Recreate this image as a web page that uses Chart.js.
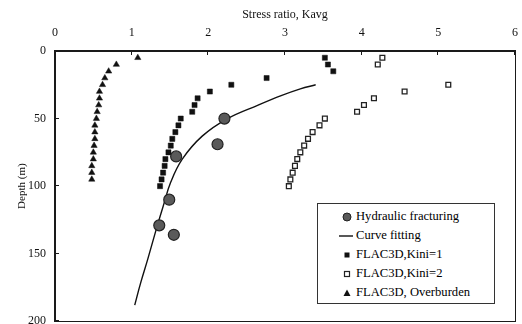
<!DOCTYPE html>
<html><head><meta charset="utf-8">
<script src="https://cdn.jsdelivr.net/npm/chart.js@4/dist/chart.umd.min.js"></script>
<style>
html,body{margin:0;padding:0;background:#fff;overflow:hidden;}
#wrap{position:relative;width:522px;height:324px;overflow:hidden;}
#frame{position:absolute;border:1px solid #1a1a1a;box-sizing:border-box;pointer-events:none;}
.tk{position:absolute;background:#1a1a1a;pointer-events:none;}
#legend{position:absolute;left:317px;top:203px;width:178px;height:101px;border:1px solid #333;background:#fff;font-family:"Liberation Serif","Times New Roman",serif;font-size:12.6px;color:#000;box-sizing:border-box;}
.row{position:absolute;left:0;width:100%;height:19px;line-height:19px;white-space:nowrap;}
.row svg{position:absolute;left:23px;top:4px;}
.row span{position:absolute;left:38px;top:0;}
</style></head>
<body><div id="wrap"><canvas id="c" width="522" height="328"></canvas><div id="frame"></div><div id="legend"></div></div>
<script>
// Hydraulic fracturing measurements
const hfDepth = [50, 69, 78, 110, 129, 136];
const hfK = [2.21, 2.12, 1.58, 1.49, 1.36, 1.55];
// Curve fitting
const fitDepth = [25, 28, 33, 40, 50, 63, 80, 97, 115, 134, 154, 171, 188];
const fitK = [3.40, 3.20, 2.95, 2.65, 2.25, 1.92, 1.66, 1.51, 1.41, 1.31, 1.21, 1.12, 1.04];
// FLAC3D, Kini=1
const kini1Depth = [5,10,15,20,25,30,35,40,45,50,55,60,65,70,75,80,85,90,95,100];
const kini1K = [3.52,3.56,3.63,2.76,2.30,2.02,1.86,1.82,1.79,1.64,1.61,1.57,1.53,1.51,1.48,1.44,1.43,1.41,1.39,1.37];
// FLAC3D, Kini=2
const kini2Depth = [5,10,25,30,35,40,45,50,55,60,65,70,75,80,85,90,95,100];
const kini2K = [4.27,4.21,5.13,4.56,4.16,4.03,3.94,3.52,3.45,3.36,3.30,3.25,3.20,3.16,3.13,3.10,3.07,3.05];
// FLAC3D, Overburden
const obDepth = [5,10,15,20,25,30,35,40,45,50,55,60,65,70,75,80,85,90,95];
const obK = [1.08,0.80,0.70,0.65,0.62,0.58,0.58,0.57,0.55,0.54,0.52,0.52,0.52,0.51,0.50,0.50,0.48,0.48,0.48];
// Axis ticks
const xTicks = [0,1,2,3,4,5,6];
const yTicks = [0,50,100,150,200];

const legendLabels = ['Hydraulic fracturing','Curve fitting','FLAC3D,Kini=1','FLAC3D,Kini=2','FLAC3D, Overburden'];

const pts = (xs, ys) => xs.map((x, i) => ({x, y: ys[i]}));
const serif = '"Liberation Serif","Times New Roman",serif';

const noPadX = s => { s.paddingLeft = 0; s.paddingRight = 0; };
const noPadY = s => { s.paddingTop = 0; s.paddingBottom = 0; };

const chart = new Chart(document.getElementById('c'), {
  type: 'scatter',
  data: {
    datasets: [
      {label: legendLabels[0], data: pts(hfK, hfDepth), pointStyle: 'circle', pointRadius: 5.5,
       backgroundColor: '#5a5a5a', borderColor: '#222', borderWidth: 1.2, order: 1},
      {label: legendLabels[1], data: pts(fitK, fitDepth), showLine: true, pointRadius: 0, tension: 0.4,
       borderColor: '#111', borderWidth: 1.4, backgroundColor: '#111', order: 2},
      {label: legendLabels[2], data: pts(kini1K, kini1Depth), pointStyle: 'rect', pointRadius: 3.6,
       backgroundColor: '#111', borderColor: '#111', borderWidth: 0.5, order: 3},
      {label: legendLabels[3], data: pts(kini2K, kini2Depth), pointStyle: 'rect', pointRadius: 3.4,
       backgroundColor: '#fff', borderColor: '#222', borderWidth: 1.3, order: 4},
      {label: legendLabels[4], data: pts(obK, obDepth), pointStyle: 'triangle', pointRadius: 3.6,
       backgroundColor: '#111', borderColor: '#111', borderWidth: 0.5, order: 5}
    ]
  },
  options: {
    responsive: false,
    animation: false,
    layout: {padding: {top: 0, left: 0, right: 7, bottom: 0}},
    plugins: {legend: {display: false}, tooltip: {enabled: false}},
    scales: {
      x: {
        type: 'linear', position: 'top', min: 0, max: 6,
        afterFit: s => { s.height = 51; noPadX(s); },
        afterBuildTicks: s => { s.ticks = xTicks.map(v => ({value: v})); },
        grid: {display: false, drawTicks: false}, border: {display: true, color: '#1a1a1a', width: 1},
        ticks: {padding: 11, color: '#111', font: {family: serif, size: 12}},
        title: {display: true, text: 'Stress ratio, Kavg', color: '#111', padding: {top: 8, bottom: 0}, font: {family: serif, size: 12}}
      },
      y: {
        type: 'linear', position: 'left', reverse: true, min: 0, max: 200,
        afterFit: s => { s.width = 55; noPadY(s); },
        afterBuildTicks: s => { s.ticks = yTicks.map(v => ({value: v})); },
        grid: {display: false, drawTicks: false}, border: {display: true, color: '#1a1a1a', width: 1},
        ticks: {padding: 9, color: '#111', font: {family: serif, size: 12}},
        title: {display: true, text: 'Depth (m)', color: '#111', padding: {top: 16, bottom: 0}, font: {family: serif, size: 11}}
      }
    }
  }
});

// Plot frame and inward tick marks placed from the chart's own area and scales
const wrap = document.getElementById('wrap');
const a = chart.chartArea;
const L = Math.round(a.left), T = Math.round(a.top), R = Math.round(a.right), B = Math.round(a.bottom);
const fr = document.getElementById('frame');
fr.style.left = (L - 1) + 'px';
fr.style.top = (T - 1) + 'px';
fr.style.width = (R - L + 2) + 'px';
fr.style.height = (B - T + 2) + 'px';
const addTick = (x, y, w, h) => {
  const d = document.createElement('div');
  d.className = 'tk';
  d.style.left = x + 'px'; d.style.top = y + 'px'; d.style.width = w + 'px'; d.style.height = h + 'px';
  wrap.insertBefore(d, document.getElementById('legend'));
};
xTicks.forEach(v => addTick(Math.round(chart.scales.x.getPixelForValue(v)) - 1, T, 1, 4));
yTicks.forEach(v => addTick(L, Math.round(chart.scales.y.getPixelForValue(v)) - 1, 4, 1));

// HTML legend (text kept as real text)
const markers = [
  '<svg width="12" height="12"><circle cx="6" cy="6" r="4" fill="#5a5a5a" stroke="#222" stroke-width="1"/></svg>',
  '<svg width="14" height="12" style="left:21px"><line x1="0" y1="6" x2="14" y2="6" stroke="#111" stroke-width="1.4"/></svg>',
  '<svg width="12" height="12"><rect x="3.5" y="3.5" width="5" height="5" fill="#111"/></svg>',
  '<svg width="12" height="12"><rect x="3.5" y="3.5" width="5" height="5" fill="#fff" stroke="#222" stroke-width="1.2"/></svg>',
  '<svg width="12" height="12"><polygon points="6,2.5 9.5,9 2.5,9" fill="#111"/></svg>'
];
const lg = document.getElementById('legend');
legendLabels.forEach((t, i) => {
  const r = document.createElement('div');
  r.className = 'row';
  r.style.top = (3 + i * 19) + 'px';
  r.innerHTML = markers[i] + '<span></span>';
  r.querySelector('span').textContent = t;
  lg.appendChild(r);
});
</script>
</body></html>
